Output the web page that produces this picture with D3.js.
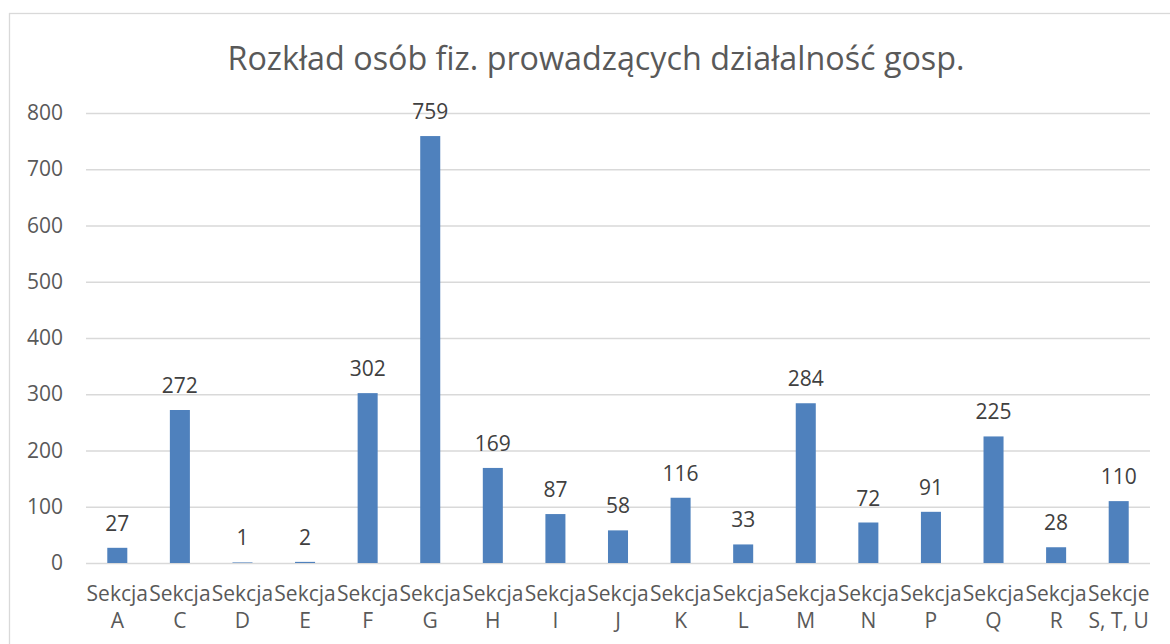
<!DOCTYPE html>
<html><head><meta charset="utf-8">
<script src="https://cdn.jsdelivr.net/npm/d3@7"></script>
<style>html,body{margin:0;padding:0;background:#fff;overflow:hidden}</style>
</head><body>
<svg id="c" width="1170" height="644"></svg>
<script>
const categories = [["Sekcja","A"],["Sekcja","C"],["Sekcja","D"],["Sekcja","E"],["Sekcja","F"],["Sekcja","G"],["Sekcja","H"],["Sekcja","I"],["Sekcja","J"],["Sekcja","K"],["Sekcja","L"],["Sekcja","M"],["Sekcja","N"],["Sekcja","P"],["Sekcja","Q"],["Sekcja","R"],["Sekcje","S, T, U"]];
const values = [27,272,1,2,302,759,169,87,58,116,33,284,72,91,225,28,110];
const yTicks = [0,100,200,300,400,500,600,700,800];
const title = "Rozkład osób fiz. prowadzących działalność gosp.";

const svg = d3.select("#c");
const font = "'Open Sans', sans-serif";
const W = 1170, H = 644;
const m = {left: 86, right: 20, top: 113, bottom: 81};

svg.append("rect").attr("x",9.5).attr("y",13.5).attr("width",W+20).attr("height",H+20)
  .attr("fill","#fff").attr("stroke","#d9d9d9").attr("stroke-width",1.3);

const x = d3.scaleBand().domain(d3.range(values.length)).range([m.left, W - m.right])
  .paddingInner(0.68).paddingOuter(0.34);
const y = d3.scaleLinear().domain([0,800]).range([H - m.bottom, m.top]);

svg.append("text").attr("x", 596).attr("y", 70).attr("text-anchor","middle")
  .attr("font-family", font).attr("font-size", 32.3).attr("fill","#595959").text(title);

const yAxis = d3.axisLeft(y).tickValues(yTicks).tickSize(-(W - m.right - m.left)).tickPadding(23);
const gy = svg.append("g").attr("transform",`translate(${m.left},0)`).call(yAxis);
gy.select(".domain").remove();
gy.selectAll(".tick line").attr("stroke","#d9d9d9").attr("stroke-width",1.3);
gy.selectAll(".tick text").attr("font-family",font).attr("font-size",21).attr("fill","#595959");

svg.append("g").selectAll("rect").data(values).join("rect")
  .attr("x",(d,i)=>x(i)).attr("width",x.bandwidth())
  .attr("y",d=>y(d)).attr("height",d=>y(0)-y(d))
  .attr("fill","#4f81bd");

svg.append("g").selectAll("text").data(values).join("text")
  .attr("x",(d,i)=>x(i)+x.bandwidth()/2).attr("y",d=>y(d)-17)
  .attr("text-anchor","middle").attr("font-family",font).attr("font-size",21)
  .attr("fill","#404040").text(d=>d);

const xl = svg.append("g").selectAll("text").data(categories).join("text")
  .attr("text-anchor","middle").attr("font-family",font).attr("font-size",21).attr("fill","#595959");
xl.append("tspan").attr("x",(d,i)=>x(i)+x.bandwidth()/2).attr("y",601).text(d=>d[0]);
xl.append("tspan").attr("x",(d,i)=>x(i)+x.bandwidth()/2).attr("y",628).text(d=>d[1]);
</script>
</body></html>
